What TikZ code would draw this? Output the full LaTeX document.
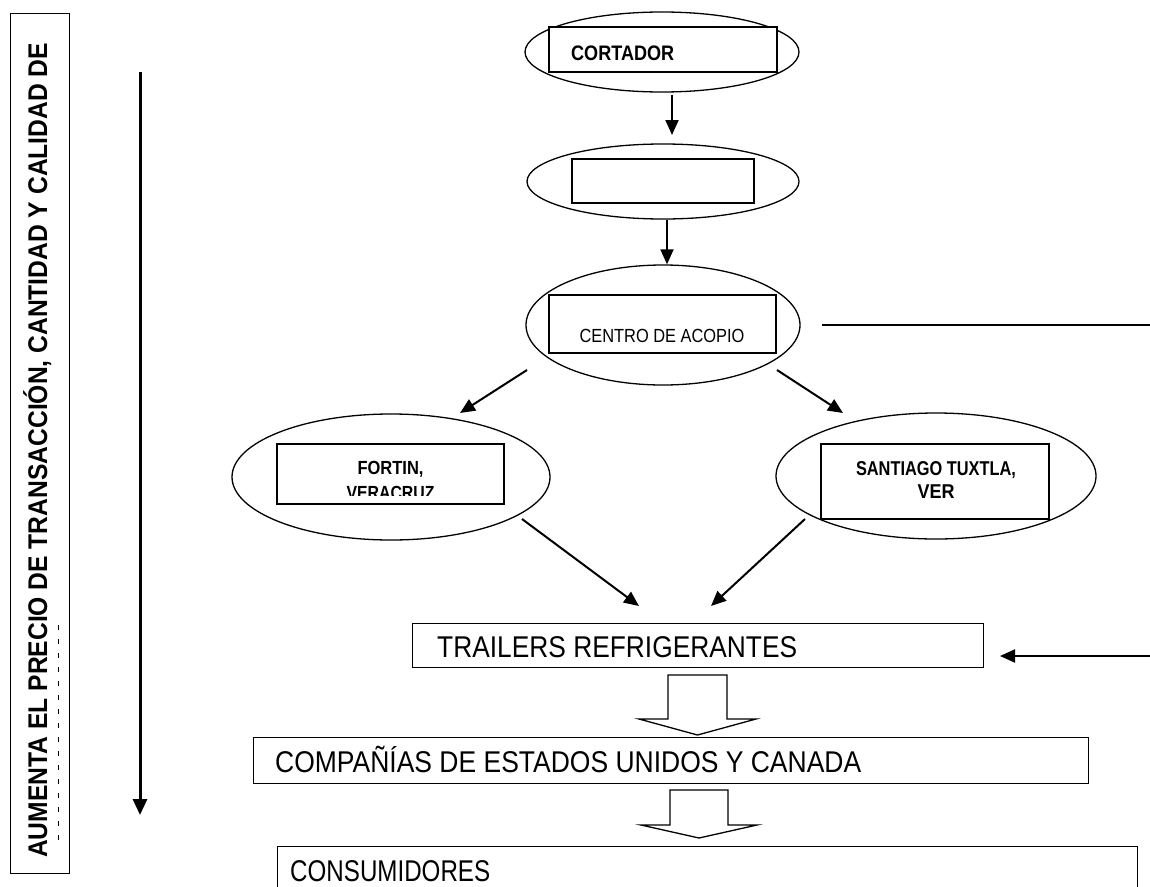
\documentclass[tikz,border=0pt]{standalone}
\usepackage{fontspec}
\usepackage{graphicx}
\setmainfont{Liberation Sans}
\usetikzlibrary{arrows.meta,shapes.geometric}
\newcommand\fitw[2]{\resizebox{#1}{\height}{#2}}
\tikzset{
  ell/.style={draw, ellipse, line width=1.3pt, inner sep=0pt},
  rbox/.style={draw, rectangle, line width=1.3pt, inner sep=0pt},
  lbl/.style={inner sep=0pt},
  arr/.style={line width=2pt, -{Triangle[length=15pt,width=13pt]}},
  hollowarrow/.style={draw, line width=1.3pt, fill=white, line join=miter},
  bigline/.style={line width=2pt}
}
\begin{document}
\begin{tikzpicture}[x=1pt,y=-1pt]
\path[use as bounding box] (0,0) rectangle (1150,886);

% left side box with vertical text
\node[rbox, minimum width=59, minimum height=860, anchor=north west] (side) at (10,13) {};
\node[lbl, rotate=90, anchor=base west] (sidetext) at (47,858)
  {\fitw{815pt}{\fontsize{27}{27}\selectfont\bfseries AUMENTA EL PRECIO DE TRANSACCIÓN, CANTIDAD Y CALIDAD DE}};
\draw[line width=1.2pt, dash pattern=on 5pt off 9pt] (58.5,840) -- (58.5,620);

% long vertical arrow
\coordinate (vtop) at (140,72);
\coordinate (vbot) at (140,815);
\draw[line width=3pt, -{Triangle[length=16pt,width=14pt]}] (vtop) -- (vbot);

% CORTADOR
\node[ell, minimum width=274, minimum height=80] (e1) at (662,52) {};
\node[rbox, fill=white, minimum width=228, minimum height=45] (r1) at (663,49.5) {};
\node[lbl, anchor=base west] (t1) at (571,60) {\fitw{103pt}{\fontsize{21}{21}\selectfont\bfseries CORTADOR}};

% empty node
\node[ell, minimum width=272, minimum height=75] (e2) at (663,181.5) {};
\node[rbox, minimum width=182, minimum height=44] (r2) at (663,181) {};

% CENTRO DE ACOPIO
\node[ell, minimum width=274, minimum height=120] (e3) at (663,325) {};
\node[rbox, minimum width=227, minimum height=58] (r3) at (662.5,324) {};
\node[lbl, anchor=base] (t3) at (662,342) {\fitw{165pt}{\fontsize{19}{19}\selectfont CENTRO DE ACOPIO}};

% FORTIN
\node[ell, minimum width=318, minimum height=126] (e4) at (391,477) {};
\node[rbox, minimum width=227, minimum height=60] (r4) at (390.5,474) {};
\node[lbl, anchor=base] (t4a) at (390.5,474) {\fitw{66pt}{\fontsize{19}{19}\selectfont\bfseries FORTIN,}};
\begin{scope}
  \clip (277,470) rectangle (504,495);
  \node[lbl, anchor=base] (t4b) at (390.5,499) {\fitw{88pt}{\fontsize{19}{19}\selectfont\bfseries VERACRUZ}};
\end{scope}

% SANTIAGO TUXTLA
\node[ell, minimum width=320, minimum height=126] (e5) at (936,476) {};
\node[rbox, minimum width=228, minimum height=75] (r5) at (935,481.5) {};
\node[lbl, anchor=base] (t5a) at (936,475) {\fitw{160pt}{\fontsize{20}{20}\selectfont\bfseries SANTIAGO TUXTLA,}};
\node[lbl, anchor=base] (t5b) at (936,498) {\fitw{37pt}{\fontsize{20}{20}\selectfont\bfseries VER}};

% TRAILERS
\node[rbox, minimum width=571, minimum height=44, anchor=north west] (r6) at (412,623) {};
\node[lbl, anchor=base west] (t6) at (437,657) {\fitw{360pt}{\fontsize{30}{30}\selectfont TRAILERS REFRIGERANTES}};

% COMPANIAS
\node[rbox, minimum width=835, minimum height=46, anchor=north west] (r7) at (253,737) {};
\node[lbl, anchor=base west] (t7) at (275,772) {\fitw{586pt}{\fontsize{30}{30}\selectfont COMPAÑÍAS DE ESTADOS UNIDOS Y CANADA}};

% CONSUMIDORES
\node[rbox, minimum width=860, minimum height=60, anchor=north west] (r8) at (277,846) {};
\node[lbl, anchor=base west] (t8) at (290,881) {\fitw{200pt}{\fontsize{30}{30}\selectfont CONSUMIDORES}};

% connectors
\coordinate (c1) at (672,95);
\draw[arr] (c1) -- (672,135);
\draw[arr] (e2.south -| 667,0) -- (e3.north -| 667,0);
\coordinate (c3a) at (527,370);
\coordinate (c3b) at (777,370);
\draw[arr] (c3a) -- (460,413);
\draw[arr] (c3b) -- (843,413);
\coordinate (c4) at (522,519);
\coordinate (c5) at (805,519);
\draw[arr] (c4) -- (639,606);
\draw[arr] (c5) -- (711,606);

% line to the right and arrow back
\coordinate (rl1) at (822,325);
\coordinate (rl2) at (1150,325);
\draw[bigline] (rl1) -- (rl2);
\coordinate (ra1) at (1150,656);
\coordinate (ra2) at (1000,656);
\draw[arr] (ra1) -- (ra2);

% hollow arrows
\draw[hollowarrow] (668,675) -- (727,675) -- (727,719) -- (756,719) -- (697.5,735) -- (639,719) -- (668,719) -- cycle;
\draw[hollowarrow] (670,790) -- (728,790) -- (728,825) -- (757,825) -- (699,838) -- (641,825) -- (670,825) -- cycle;
\end{tikzpicture}
\end{document}
